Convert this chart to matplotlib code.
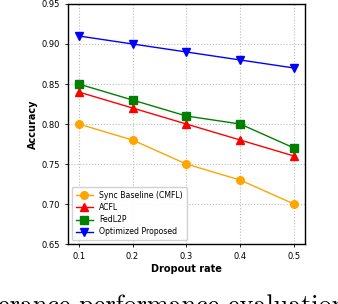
import matplotlib
matplotlib.use('Agg')
import matplotlib.pyplot as plt

# dropout rates and accuracy per method
dropout = [0.1, 0.2, 0.3, 0.4, 0.5]
sync_cmfl = [0.80, 0.78, 0.75, 0.73, 0.70]
acfl = [0.84, 0.82, 0.80, 0.78, 0.76]
fedl2p = [0.85, 0.83, 0.81, 0.80, 0.77]
optimized = [0.91, 0.90, 0.89, 0.88, 0.87]

fig = plt.figure(figsize=(3.38, 3.04), dpi=100)
ax = fig.add_axes([0.201, 0.197, 0.701, 0.790])

ax.plot(dropout, sync_cmfl, color='orange', marker='o', ms=5.5, lw=1, label='Sync Baseline (CMFL)')
ax.plot(dropout, acfl, color='red', marker='^', ms=5.5, lw=1, label='ACFL')
ax.plot(dropout, fedl2p, color='green', marker='s', ms=5.5, lw=1, label='FedL2P')
ax.plot(dropout, optimized, color='blue', marker='v', ms=5.5, lw=1, label='Optimized Proposed')

ax.set_xlim(0.08, 0.52)
ax.set_ylim(0.65, 0.95)
ax.set_xticks(dropout)
ax.set_yticks([0.65, 0.70, 0.75, 0.80, 0.85, 0.90, 0.95])
ax.tick_params(labelsize=6, length=2.5, width=0.6)
ax.grid(True, linestyle=':', color='#bbbbbb', lw=0.8)
ax.set_xlabel('Dropout rate', fontsize=7, fontweight='bold', labelpad=2)
ax.set_ylabel('Accuracy', fontsize=7, fontweight='bold', labelpad=2)
for s in ax.spines.values():
    s.set_linewidth(1.0)

ax.legend(loc='lower left', fontsize=5.6, handlelength=2.2, borderpad=0.5,
          labelspacing=0.4, framealpha=0.9)

# cropped caption text from the paper below the chart
fig.text(-0.005, -0.045, 'erance performance evaluation', fontsize=18.8,
         family='cmr10', ha='left', va='bottom')

fig.savefig('out.png', dpi=100)
